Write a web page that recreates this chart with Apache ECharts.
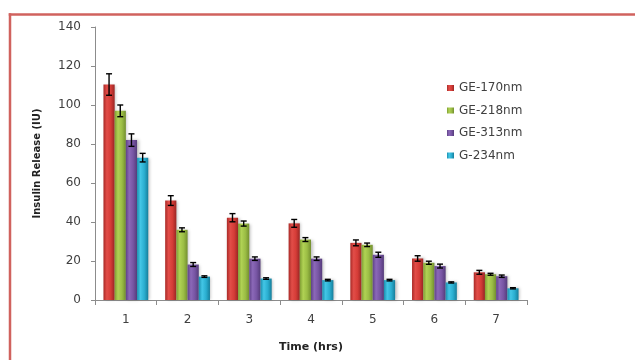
<!DOCTYPE html>
<html>
<head>
<meta charset="utf-8">
<script src="https://cdn.jsdelivr.net/npm/echarts@6/dist/echarts.min.js"></script>
<style>html,body{margin:0;padding:0;background:#fff;overflow:hidden}#c{width:635px;height:360px}</style>
</head>
<body>
<div id="c"></div>
<script>
var categories = ['1', '2', '3', '4', '5', '6', '7'];
var seriesNames = ['GE-170nm', 'GE-218nm', 'GE-313nm', 'G-234nm'];
var ge170 = [110.5, 51, 42.2, 39.3, 29.3, 21.3, 14.2];
var ge218 = [97, 36, 39.2, 31, 28.3, 19.1, 13.2];
var ge313 = [82, 18.2, 21.2, 21.2, 23.2, 17.4, 12.2];
var g234 = [73, 12, 11, 10.2, 10.2, 9, 6];
var err170 = [5.5, 2.5, 2.1, 2.0, 1.5, 1.4, 1.0];
var err218 = [3.0, 1.0, 1.3, 1.0, 0.9, 0.8, 0.5];
var err313 = [3.2, 1.0, 0.9, 0.9, 1.3, 1.0, 0.6];
var err234 = [2.2, 0.4, 0.4, 0.4, 0.4, 0.3, 0.3];
var yTicks = [0, 20, 40, 60, 80, 100, 120, 140];

var values = [ge170, ge218, ge313, g234];
var errors = [err170, err218, err313, err234];
var gradients = [
  ['#a92a27', '#e24d48', '#d53c37', '#9a2624'],
  ['#7f9e33', '#b0d254', '#9bbd45', '#738f2f'],
  ['#5f4287', '#8b68b8', '#7755a3', '#553b7a'],
  ['#1a8eae', '#43c6e6', '#2aaed0', '#167e9b']
];
var BW = 11.2;

function grad(c) {
  return new echarts.graphic.LinearGradient(0, 0, 1, 0, [
    {offset: 0, color: c[0]}, {offset: 0.3, color: c[1]},
    {offset: 0.65, color: c[2]}, {offset: 1, color: c[3]}
  ]);
}

var series = [];
values.forEach(function (v, i) {
  series.push({
    name: seriesNames[i], type: 'bar', data: v, barWidth: BW, barGap: '0%',
    itemStyle: {color: grad(gradients[i]), shadowColor: 'rgba(0,0,0,0.25)', shadowBlur: 3, shadowOffsetX: 1.5, shadowOffsetY: 0}
  });
});
values.forEach(function (v, i) {
  series.push({
    type: 'custom', silent: true, z: 10,
    data: v.map(function (val, j) { return [j, val, errors[i][j]]; }),
    renderItem: function (params, api) {
      var idx = api.value(0), val = api.value(1), e = api.value(2);
      var off = (i - 1.5) * BW;
      var top = api.coord([idx, val + e]);
      var bot = api.coord([idx, val - e]);
      var x = top[0] + off;
      var cw = 3;
      var st = {stroke: '#000', lineWidth: 1.4};
      return {type: 'group', children: [
        {type: 'line', shape: {x1: x, y1: top[1], x2: x, y2: bot[1]}, style: st},
        {type: 'line', shape: {x1: x - cw, y1: top[1], x2: x + cw, y2: top[1]}, style: st},
        {type: 'line', shape: {x1: x - cw, y1: bot[1], x2: x + cw, y2: bot[1]}, style: st}
      ]};
    }
  });
});

var chart = echarts.init(document.getElementById('c'), null, {renderer: 'canvas'});
chart.setOption({
  animation: false,
  backgroundColor: '#fff',
  textStyle: {fontFamily: 'DejaVu Sans'},
  graphic: [
    {type: 'rect', shape: {x: 8.75, y: 13.25, width: 700, height: 2.5}, style: {fill: '#d0625e'}, z: 100},
    {type: 'rect', shape: {x: 8.75, y: 13.25, width: 2.5, height: 400}, style: {fill: '#d0625e'}, z: 100}
  ],
  legend: {
    orient: 'vertical', left: 447, top: 81, padding: 0, itemWidth: 7, itemHeight: 6, itemGap: 8.5,
    icon: 'rect', data: seriesNames,
    textStyle: {fontSize: 12, color: '#404040', fontFamily: 'DejaVu Sans', lineHeight: 14, padding: [0, 0, 0, 0]}
  },
  grid: {left: 95, right: 108, top: 27, bottom: 60},
  xAxis: {
    type: 'category', data: categories,
    name: 'Time (hrs)', nameLocation: 'middle', nameGap: 42,
    nameTextStyle: {fontSize: 11, fontWeight: 'bold', color: '#222'},
    axisLine: {lineStyle: {color: '#8c8c8c', width: 1}},
    axisTick: {show: true, length: 5, lineStyle: {color: '#8c8c8c'}},
    axisLabel: {fontSize: 12, color: '#404040', margin: 14}
  },
  yAxis: {
    type: 'value', min: 0, max: 140, interval: 20,
    name: 'Insulin Release (IU)', nameLocation: 'middle', nameGap: 53,
    nameTextStyle: {fontSize: 10, fontWeight: 'bold', color: '#222'},
    axisLine: {show: true, lineStyle: {color: '#8c8c8c', width: 1}},
    axisTick: {show: true, length: 4, lineStyle: {color: '#8c8c8c'}},
    splitLine: {show: false},
    axisLabel: {fontSize: 12, color: '#404040', margin: 14,
      formatter: function (v) { return yTicks.indexOf(v) >= 0 ? String(v) : ''; }}
  },
  series: series
});
</script>
</body>
</html>
